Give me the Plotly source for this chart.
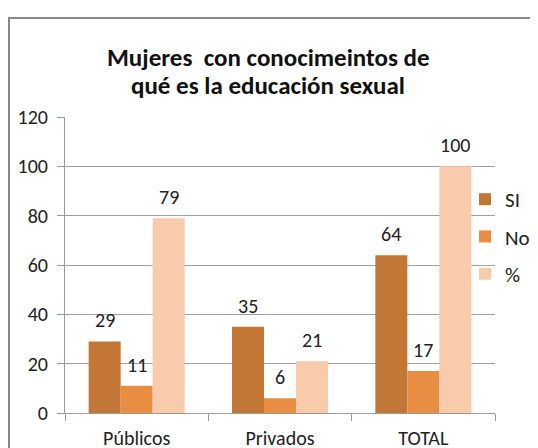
import plotly.graph_objects as go

categories = ["Públicos", "Privados", "TOTAL"]
series_names = ["SI", "No", "%"]
si_values = [29, 35, 64]
no_values = [11, 6, 17]
pct_values = [79, 21, 100]
y_ticks = [0, 20, 40, 60, 80, 100, 120]
title_lines = ["Mujeres  con conocimeintos de", "qué es la educación sexual"]

colors = ["#C37737", "#E98D43", "#F8CBAD"]
FONT = "Carlito, Lato, sans-serif"

W, H = 538, 448
L, R, T, B = 57, 51, 109, 43
plot_w = W - L - R
plot_h = H - T - B
bargap = 0.33
FS = 20

fig = go.Figure()
all_vals = [si_values, no_values, pct_values]
for i, (name, vals) in enumerate(zip(series_names, all_vals)):
    fig.add_trace(go.Bar(
        x=categories, y=vals, name=name,
        marker=dict(color=colors[i], line=dict(width=0)),
        legendgroup=name,
    ))

bar_w = plot_w / len(categories) * (1 - bargap) / 3
for i, vals in enumerate(all_vals):
    for c, v in zip(categories, vals):
        fig.add_annotation(
            x=c, y=v, xref="x", yref="y", text=str(v), showarrow=False,
            xshift=(i - 1) * bar_w, yshift=21, yanchor="middle",
            font=dict(family=FONT, size=FS, color="#222222"),
        )

def px_x(p):
    return (p - L) / plot_w

def px_y(p):
    return (H - B - p) / plot_h

# title, two lines
for k, line in enumerate(title_lines):
    fig.add_annotation(
        x=px_x(260), y=px_y(50 + 28 * k), xref="paper", yref="paper",
        text=f"<b>{line}</b>", showarrow=False, xanchor="center", yanchor="middle",
        font=dict(family=FONT, size=25, color="#111111"),
    )

# outer chart border
fig.add_shape(type="rect", xref="paper", yref="paper",
              x0=px_x(1), x1=px_x(580), y0=px_y(10), y1=px_y(480),
              line=dict(color="#878787", width=2), fillcolor="rgba(0,0,0,0)", layer="above")

fig.update_layout(
    width=W, height=H,
    margin=dict(l=L, r=R, t=T, b=B, autoexpand=False),
    paper_bgcolor="white", plot_bgcolor="white",
    barmode="group", bargap=bargap, bargroupgap=0,
    font=dict(family=FONT, size=FS, color="#222222"),
    showlegend=True,
    legend=dict(xref="container", yref="container",
                x=457 / W, xanchor="left", y=1 - 171 / H, yanchor="top",
                bgcolor="rgba(0,0,0,0)", tracegroupgap=7,
                font=dict(family=FONT, size=21, color="#222222"),
                itemwidth=30),
    xaxis=dict(showline=True, linecolor="#9A9A9A", linewidth=1, automargin=False,
               ticks="outside", tickson="boundaries", ticklen=7, tickcolor="#9A9A9A",
               ticklabelstandoff=7,
               tickfont=dict(family=FONT, size=FS, color="#222222")),
    yaxis=dict(range=[0, 120], tickvals=y_ticks, showgrid=True, gridcolor="#A0A0A0",
               gridwidth=1, showline=True, linecolor="#9A9A9A", linewidth=1,
               automargin=False,
               ticks="outside", ticklen=7, tickcolor="#9A9A9A", zeroline=False,
               ticklabelstandoff=5,
               tickfont=dict(family=FONT, size=FS, color="#222222")),
)

fig.write_html("out.html")
